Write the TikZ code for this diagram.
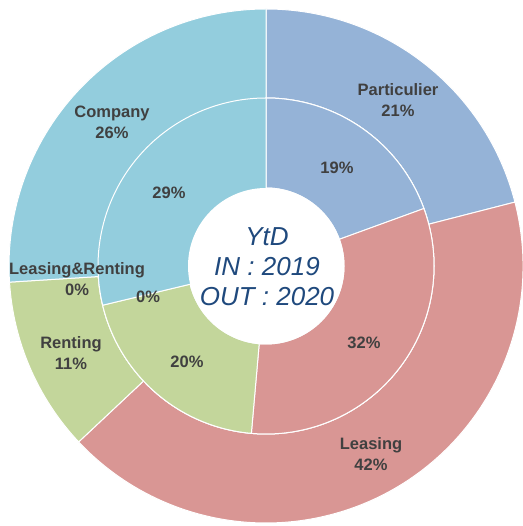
\documentclass[tikz,border=0pt]{standalone}
\usepackage{fontspec}
\setmainfont{Liberation Sans}
\definecolor{partblue}{HTML}{95B3D7}
\definecolor{leasered}{HTML}{D99694}
\definecolor{rentgreen}{HTML}{C3D69B}
\definecolor{compaqua}{HTML}{93CDDD}
\definecolor{labelgrey}{HTML}{404040}
\definecolor{ytdblue}{HTML}{1F497D}
\tikzset{
  slice/.style={draw=white,line width=1pt},
  pct/.style={text=labelgrey,font=\fontsize{16.5}{21}\selectfont\bfseries,align=center,inner sep=0pt},
  ytd/.style={text=ytdblue,font=\fontsize{26}{30}\selectfont\itshape,align=center,inner sep=0pt}
}
\begin{document}
\begin{tikzpicture}[x=1pt,y=1pt]
 \useasboundingbox[fill=white](0,0) rectangle (522,526);
 \begin{scope}[shift={(266,260)}]
 \draw[slice,fill=partblue](90:257pt) arc[start angle=90,end angle=14.4,radius=257pt]--(14.4:168pt) arc[start angle=14.4,end angle=90,radius=168pt]--cycle;
 \draw[slice,fill=leasered](14.4:257pt) arc[start angle=14.4,end angle=-136.8,radius=257pt]--(-136.8:168pt) arc[start angle=-136.8,end angle=14.4,radius=168pt]--cycle;
 \draw[slice,fill=rentgreen](-136.8:257pt) arc[start angle=-136.8,end angle=-176.4,radius=257pt]--(-176.4:168pt) arc[start angle=-176.4,end angle=-136.8,radius=168pt]--cycle;
 \draw[slice,fill=compaqua](-176.4:257pt) arc[start angle=-176.4,end angle=-270,radius=257pt]--(90:168pt) arc[start angle=90,end angle=-176.4,radius=168pt]--cycle;
 \draw[slice,fill=partblue](90:168pt) arc[start angle=90,end angle=20,radius=168pt]--(20:78pt) arc[start angle=20,end angle=90,radius=78pt]--cycle;
 \draw[slice,fill=leasered](20:168pt) arc[start angle=20,end angle=-95,radius=168pt]--(-95:78pt) arc[start angle=-95,end angle=20,radius=78pt]--cycle;
 \draw[slice,fill=rentgreen](-95:168pt) arc[start angle=-95,end angle=-166.5,radius=168pt]--(-166.5:78pt) arc[start angle=-166.5,end angle=-95,radius=78pt]--cycle;
 \draw[slice,fill=compaqua](-166.5:168pt) arc[start angle=-166.5,end angle=-270,radius=168pt]--(90:78pt) arc[start angle=90,end angle=-166.5,radius=78pt]--cycle;
 \fill[white](0,0) circle[radius=78pt];
 \end{scope}
 \node[pct] (particulier) at (398,425.5) {Particulier\\21\%};
 \node[pct] (company) at (112,404) {Company\\26\%};
 \node[pct] (leasrent) at (77,247) {Leasing\&Renting\\0\%};
 \node[pct] (renting) at (71,172.5) {Renting\\11\%};
 \node[pct] (leasing) at (371,72) {Leasing\\42\%};
 \node[pct] (inpart) at (337,358) {19\%};
 \node[pct] (incomp) at (169,333) {29\%};
 \node[pct] (inleasrent) at (148,229) {0\%};
 \node[pct] (inrent) at (187,164) {20\%};
 \node[pct] (inleas) at (364,183) {32\%};
 \node[ytd] (centre) at (267,259) {YtD\\IN : 2019\\OUT : 2020};
\end{tikzpicture}
\end{document}
